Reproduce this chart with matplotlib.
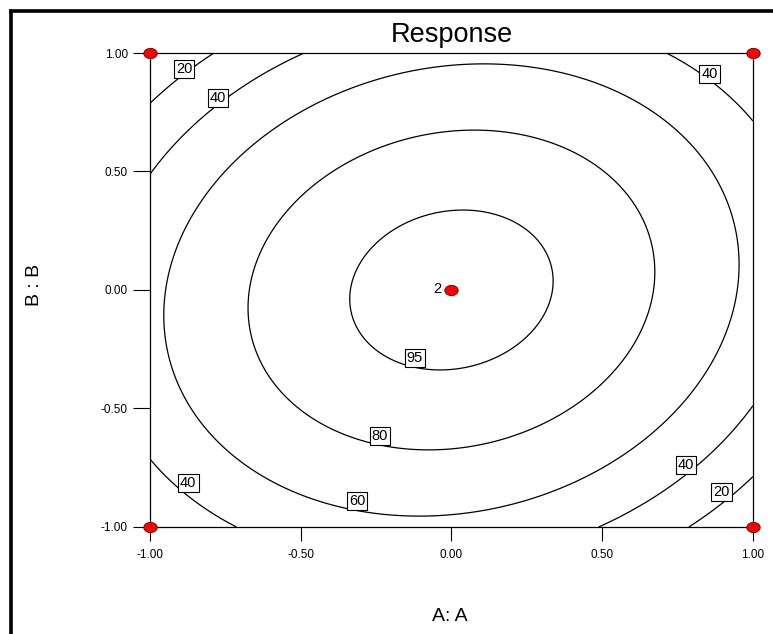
import numpy as np
import matplotlib.pyplot as plt
from matplotlib.lines import Line2D
from matplotlib.markers import MarkerStyle
from matplotlib.transforms import Affine2D

plt.rcParams['font.family'] = ['Liberation Sans', 'DejaVu Sans']
plt.rcParams['axes.unicode_minus'] = False

# fitted quadratic model in coded factors A, B
coef_intercept = 100.0
coef_A2 = -44.5
coef_B2 = -44.5
coef_AB = 10.0

contour_levels = [20, 40, 60, 80, 95]

# where the contour labels sit (coded units)
label_A = [-0.887, -0.774, 0.857, -0.121, -0.237, -0.313, -0.873, 0.778, 0.897]
label_B = [0.932, 0.81, 0.911, -0.287, -0.616, -0.89, -0.814, -0.738, -0.852]

# design points (corners + replicated centre)
design_A = [-1, 1, -1, 1, 0]
design_B = [-1, -1, 1, 1, 0]
centre_reps = 2

ticks = [-1.0, -0.5, 0.0, 0.5, 1.0]
tick_labels = ["-1.00", "-0.50", "0.00", "0.50", "1.00"]

a = np.linspace(-1, 1, 301)
b = np.linspace(-1, 1, 301)
AA, BB = np.meshgrid(a, b)
resp = coef_intercept + coef_A2 * AA**2 + coef_B2 * BB**2 + coef_AB * AA * BB

fig = plt.figure(figsize=(7.73, 6.34), dpi=100)
ax = fig.add_axes([0.194, 0.1688, 0.78, 0.7476])

cs = ax.contour(AA, BB, resp, levels=contour_levels, colors='black', linewidths=0.9)
labels = ax.clabel(cs, fmt='%d', fontsize=10.5, inline=False,
                   manual=list(zip(label_A, label_B)))
for t, xa, yb in zip(labels, label_A, label_B):
    t.set_position((xa, yb))
    t.set_rotation(0)
    t.set_bbox(dict(boxstyle='square,pad=0.15', fc='white', ec='black', lw=0.8))
    t.set_zorder(4)

oval = MarkerStyle('o', transform=Affine2D().scale(1.3, 1.0))
ax.scatter(design_A, design_B, marker=oval, s=55, c='#ff0000',
           edgecolors='#600000', linewidths=0.6, zorder=6, clip_on=False)
ax.text(-0.035, 0.005, str(centre_reps), ha='right', va='center', fontsize=10.5, zorder=6)

ax.set_xlim(-1, 1)
ax.set_ylim(-1, 1)
ax.set_xticks(ticks)
ax.set_xticklabels(tick_labels)
ax.set_yticks(ticks)
ax.set_yticklabels(tick_labels)
ax.tick_params(axis='x', direction='out', length=10, width=0.8, pad=6, labelsize=8.5)
ax.tick_params(axis='y', direction='out', length=12, width=0.8, pad=4, labelsize=8.5)
for sp in ax.spines.values():
    sp.set_linewidth(0.9)

ax.set_title("Response", fontsize=19.5, pad=8)
fig.text(0.582, 0.027, "A: A", ha='center', va='center', fontsize=14)
fig.text(0.045, 0.55, "B : B", ha='center', va='center', rotation=90, fontsize=14)

# heavy frame on the left and top edges
fig.add_artist(Line2D([10.5 / 773, 10.5 / 773], [0, 1 - 10.5 / 634],
                      transform=fig.transFigure, color='black', lw=2.6,
                      solid_capstyle='projecting'))
fig.add_artist(Line2D([10.5 / 773, 1], [1 - 10.5 / 634, 1 - 10.5 / 634],
                      transform=fig.transFigure, color='black', lw=2.6,
                      solid_capstyle='projecting'))

fig.savefig("out.png", dpi=100)
